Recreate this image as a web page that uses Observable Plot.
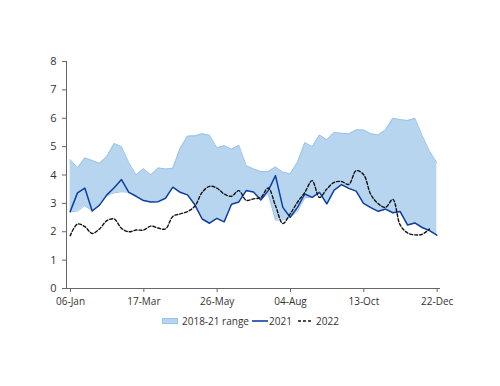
<!DOCTYPE html>
<html>
<head>
<meta charset="utf-8">
<script src="https://cdn.jsdelivr.net/npm/d3@7"></script>
<script src="https://cdn.jsdelivr.net/npm/@observablehq/plot@0.6"></script>
<style>
  html, body { margin: 0; padding: 0; background: #fff; }
  body { width: 500px; height: 386px; font-family: "Open Sans", sans-serif; }
  #legend { position: relative; width: 500px; height: 16px; margin-top: 1px; font-size: 10px; color: #333; }
  .item { position: absolute; top: 0; display: flex; align-items: center; height: 16px; white-space: nowrap; }
  .sw { margin-right: 4px; }
</style>
</head>
<body>
<div id="chart"></div>
<div id="legend">
  <div class="item" style="left:162px"><svg class="sw" width="16" height="8"><rect x="0.5" y="1.5" width="15" height="5" fill="#b7d5ef" stroke="#9cc4e8"/></svg><span>2018-21 range</span></div>
  <div class="item" style="left:252px"><svg class="sw" width="16" height="8" style="margin-right:1px"><line x1="0" y1="4" x2="16" y2="4" stroke="#0d3f9f" stroke-width="1.6"/></svg><span>2021</span></div>
  <div class="item" style="left:298px"><svg class="sw" width="15" height="8" style="margin-right:3px"><line x1="0" y1="4" x2="15" y2="4" stroke="#111" stroke-width="1.4" stroke-dasharray="3,2"/></svg><span>2022</span></div>
</div>
<script>
const tickLabels = ["06-Jan", "17-Mar", "26-May", "04-Aug", "13-Oct", "22-Dec"];
const tickWeeks = [0, 10, 20, 30, 40, 50];

const rangeMax = [4.54, 4.25, 4.60, 4.51, 4.41, 4.65, 5.11, 5.00, 4.43, 4.00,
  4.22, 4.00, 4.25, 4.21, 4.24, 4.94, 5.37, 5.38, 5.45, 5.40,
  4.96, 5.03, 4.91, 5.05, 4.33, 4.21, 4.12, 4.12, 4.28, 4.10,
  4.04, 4.45, 5.14, 5.00, 5.41, 5.24, 5.50, 5.47, 5.45, 5.59,
  5.59, 5.45, 5.41, 5.59, 6.00, 5.95, 5.92, 6.00, 5.39, 4.84, 4.43];

const rangeMin = [2.70, 2.73, 2.92, 2.73, 2.94, 3.28, 3.37, 3.41, 3.39, 3.25,
  3.10, 3.05, 3.06, 3.18, 3.57, 3.39, 3.30, 2.95, 2.45, 2.30,
  2.47, 2.35, 2.97, 3.05, 3.43, 3.40, 3.12, 3.35, 2.41, 2.42,
  2.51, 2.72, 3.20, 3.21, 3.39, 2.98, 3.47, 3.66, 3.53, 3.43,
  3.00, 2.85, 2.72, 2.80, 2.67, 2.71, 2.24, 2.31, 2.15, 2.04, 1.88];

const y2021 = [2.71, 3.37, 3.54, 2.73, 2.94, 3.30, 3.55, 3.84, 3.39, 3.25,
  3.10, 3.05, 3.06, 3.18, 3.57, 3.39, 3.30, 2.95, 2.45, 2.30,
  2.47, 2.35, 2.97, 3.05, 3.45, 3.40, 3.12, 3.45, 3.98, 2.86,
  2.51, 2.86, 3.33, 3.21, 3.39, 2.98, 3.47, 3.66, 3.53, 3.43,
  3.00, 2.85, 2.72, 2.80, 2.67, 2.71, 2.24, 2.31, 2.15, 2.04, 1.88];

const y2022 = [1.86, 2.27, 2.18, 1.94, 2.10, 2.39, 2.45, 2.12, 2.00, 2.06,
  2.06, 2.20, 2.13, 2.10, 2.54, 2.63, 2.71, 2.90, 3.39, 3.60,
  3.54, 3.33, 3.25, 3.45, 3.11, 3.16, 3.21, 3.54, 2.92, 2.29,
  2.63, 3.04, 3.39, 3.80, 3.21, 3.51, 3.74, 3.77, 3.67, 4.15,
  4.02, 3.31, 2.99, 2.86, 3.14, 2.24, 1.96, 1.89, 1.91, 2.10];

const band = rangeMax.map((hi, i) => ({w: i + 0.5, lo: rangeMin[i], hi}));
const s21 = y2021.map((v, i) => ({w: i + 0.5, v}));
const s22 = y2022.map((v, i) => ({w: i + 0.5, v}));

const chart = Plot.plot({
  width: 500,
  height: 312,
  marginLeft: 66,
  marginRight: 60,
  marginTop: 61,
  marginBottom: 24,
  style: {fontFamily: "Open Sans, sans-serif", fontSize: "10px", color: "#333", background: "#fff"},
  x: {domain: [0, 51]},
  y: {domain: [0, 8]},
  marks: [
    Plot.areaY(band, {x: "w", y1: "lo", y2: "hi", fill: "#b7d5ef"}),
    Plot.lineY(band, {x: "w", y: "hi", stroke: "#9cc4e8", strokeWidth: 1}),
    Plot.lineY(band, {x: "w", y: "lo", stroke: "#9cc4e8", strokeWidth: 1}),
    Plot.lineY(s21, {x: "w", y: "v", stroke: "#0d3f9f", strokeWidth: 1.5}),
    Plot.lineY(s22, {x: "w", y: "v", stroke: "#111", strokeWidth: 1.4, strokeDasharray: "3,2", curve: "catmull-rom"}),
    Plot.ruleX([0], {stroke: "#666"}),
    Plot.ruleY([0], {stroke: "#666"}),
    Plot.axisY({ticks: d3.range(0, 9), tickSize: 4, tickPadding: 6, label: null, stroke: "#666", fontSize: 11}),
    Plot.axisX({ticks: tickWeeks, tickFormat: (d, i) => tickLabels[i], tickSize: 4, tickPadding: 5, dx: 4, label: null, stroke: "#666"})
  ]
});
document.getElementById("chart").appendChild(chart);
</script>
</body>
</html>
